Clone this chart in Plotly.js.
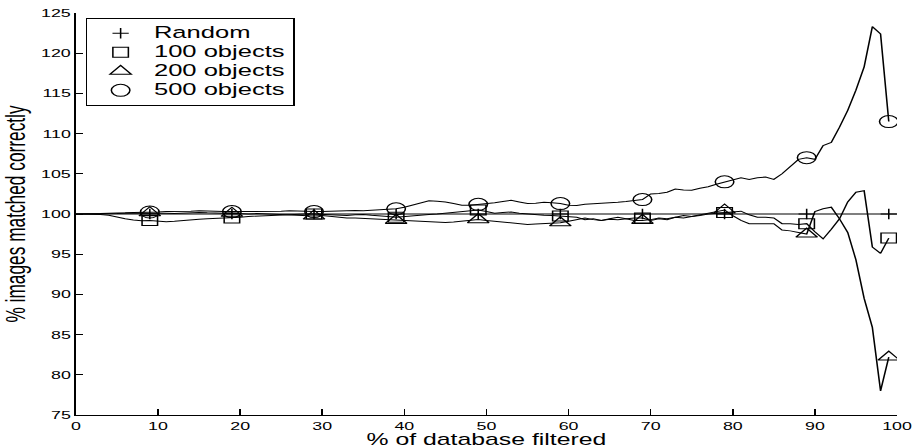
<!DOCTYPE html>
<html>
<head>
<meta charset="utf-8">
<script src="https://cdn.plot.ly/plotly-3.0.1.min.js"></script>
<style>
  html, body { margin: 0; padding: 0; background: #fff; }
  #wrap { width: 914px; height: 448px; overflow: hidden; position: relative; }
  #chart { width: 590px; height: 448px; transform: scaleX(1.5492); transform-origin: 0 0; }
</style>
</head>
<body>
<div id="wrap"><div id="chart"></div></div>
<script>
// ---- data ----
const seriesNames = ['Random', '100 objects', '200 objects', '500 objects'];

const xPct = [0,1,2,3,4,5,6,7,8,9,10,11,12,13,14,15,16,17,18,19,
  20,21,22,23,24,25,26,27,28,29,30,31,32,33,34,35,36,37,38,39,
  40,41,42,43,44,45,46,47,48,49,50,51,52,53,54,55,56,57,58,59,
  60,61,62,63,64,65,66,67,68,69,70,71,72,73,74,75,76,77,78,79,
  80,81,82,83,84,85,86,87,88,89,90,91,92,93,94,95,96,97,98,99];

const randomX = [0, 9, 19, 29, 39, 49, 59, 69, 79, 89, 99, 100];
const randomY = [100, 100, 100, 100, 100, 100, 100, 100, 100, 100, 100, 100];

const values100 = [
  100.0, 100.0, 100.0, 99.95, 99.85, 99.6, 99.4, 99.25, 99.15, 99.2,
  99.1, 99.05, 99.1, 99.2, 99.3, 99.35, 99.4, 99.45, 99.5, 99.5,
  99.6, 99.7, 99.75, 99.8, 99.8, 99.85, 99.9, 99.95, 100.0, 100.0,
  99.95, 99.9, 99.85, 99.8, 99.9, 99.95, 99.85, 99.8, 99.7, 99.6,
  99.7, 99.8, 99.9, 99.95, 100.0, 100.1, 100.2, 100.3, 100.4, 100.5,
  100.3, 100.1, 100.2, 100.25, 100.1, 100.0, 99.9, 99.85, 99.8, 99.75,
  99.7, 99.6, 99.3, 99.4, 99.2, 99.35, 99.3, 99.4, 99.5, 99.5,
  99.2, 99.4, 99.3, 99.6, 99.5, 99.7, 99.8, 100.0, 100.1, 100.2,
  100.3, 100.35, 99.9, 99.6, 99.6, 99.5, 98.8, 98.8, 98.7, 98.8,
  97.8, 96.9, 98.1, 99.4, 101.5, 102.7, 102.9, 95.9, 95.1, 97.0];

const values200 = [
  100.0, 100.0, 100.0, 100.0, 100.05, 100.05, 100.1, 100.1, 100.1, 100.15,
  100.1, 100.1, 100.05, 100.1, 100.15, 100.2, 100.15, 100.1, 100.1, 100.1,
  100.05, 100.0, 100.05, 100.0, 99.95, 99.9, 99.85, 99.8, 99.8, 99.75,
  99.8, 99.7, 99.6, 99.5, 99.5, 99.45, 99.4, 99.3, 99.25, 99.2,
  99.2, 99.15, 99.1, 99.05, 99.0, 98.95, 99.0, 99.1, 99.2, 99.3,
  99.2, 99.1, 99.0, 98.9, 98.8, 98.7, 98.75, 98.8, 98.9, 98.9,
  99.1, 99.3, 99.5, 99.3, 99.2, 99.4, 99.6, 99.4, 99.2, 99.2,
  99.3, 99.5, 99.4, 99.6, 99.8, 99.7, 99.9, 100.1, 100.3, 100.5,
  99.8, 99.2, 98.8, 98.8, 98.8, 98.8, 98.0, 97.9, 97.7, 97.5,
  100.3, 100.65, 100.85, 99.4, 97.7, 94.3, 89.5, 85.9, 78.0, 82.2];

const values500 = [
  100.0, 100.0, 100.05, 100.05, 100.1, 100.1, 100.15, 100.2, 100.2, 100.25,
  100.25, 100.3, 100.3, 100.35, 100.35, 100.4, 100.35, 100.3, 100.3, 100.3,
  100.3, 100.3, 100.35, 100.3, 100.3, 100.35, 100.4, 100.35, 100.3, 100.3,
  100.3, 100.35, 100.4, 100.4, 100.45, 100.4, 100.45, 100.5, 100.55, 100.65,
  100.85, 101.1, 101.4, 101.65, 101.6, 101.5, 101.3, 101.1, 101.1, 101.2,
  101.25, 101.4, 101.55, 101.7, 101.5, 101.3, 101.35, 101.45, 101.4, 101.3,
  101.1, 101.05, 101.2, 101.25, 101.3, 101.4, 101.45, 101.55, 101.65, 101.8,
  102.5, 102.55, 102.7, 103.1, 103.0, 102.95, 103.2, 103.4, 103.7, 104.0,
  104.2, 104.5, 104.3, 104.5, 104.6, 104.3, 105.0, 105.9, 106.8, 107.0,
  106.8, 108.5, 108.9, 110.8, 112.9, 115.4, 118.3, 123.3, 122.4, 111.5];

const xTickVals = [0, 10, 20, 30, 40, 50, 60, 70, 80, 90, 100];
const yTickVals = [75, 80, 85, 90, 95, 100, 105, 110, 115, 120, 125];

// ---- build traces ----
const FONT = 'Liberation Sans, Arial, Helvetica, sans-serif';
const symbols = ['cross-thin-open', 'square-open', 'triangle-up-open', 'circle-open'];
const sizes = [7.5, 10, 12, 12];
const lineSets = [
  [randomX, randomY],
  [xPct, values100],
  [xPct, values200],
  [xPct, values500]
];

const traces = [];
lineSets.forEach(([xs, ys]) => {
  traces.push({
    x: xs, y: ys, type: 'scatter', mode: 'lines',
    line: { color: '#000', width: 1 },
    showlegend: false, hoverinfo: 'skip'
  });
});
lineSets.forEach(([xs, ys], i) => {
  const mx = [], my = [];
  xs.forEach((xv, k) => { if (xv % 10 === 9) { mx.push(xv); my.push(ys[k]); } });
  traces.push({
    x: mx, y: my, type: 'scatter', mode: 'markers',
    name: '<span style="font-size:16.5px">' + seriesNames[i] + '</span>',
    marker: { symbol: symbols[i], size: sizes[i], color: '#000',
              line: { color: '#000', width: 1 } }
  });
});

const layout = {
  width: 590, height: 448,
  margin: { l: 49, r: 10.5, t: 13.3, b: 33 },
  paper_bgcolor: '#fff', plot_bgcolor: '#fff',
  font: { family: FONT, color: '#000', size: 11 },
  showlegend: true,
  legend: {
    x: 0.012, y: 0.988, xanchor: 'left', yanchor: 'top',
    bgcolor: '#fff', bordercolor: '#000', borderwidth: 1,
    font: { family: FONT, size: 12.3, color: '#000' },
    itemwidth: 33,
    tracegroupgap: 0
  },
  xaxis: {
    range: [0, 100], tickvals: xTickVals, ticktext: xTickVals.map(String),
    ticks: 'inside', ticklen: 6, tickwidth: 1, tickcolor: '#000',
    showline: true, linecolor: '#000', linewidth: 1, mirror: false,
    showgrid: false, zeroline: false,
    tickfont: { family: FONT, size: 11.5, color: '#000' },
    title: { text: '% of database filtered', font: { family: FONT, size: 16, color: '#000' }, standoff: 4 }
  },
  yaxis: {
    range: [75, 125], tickvals: yTickVals, ticktext: yTickVals.map(String),
    ticks: 'inside', ticklen: 4.5, tickwidth: 1, tickcolor: '#000',
    showline: true, linecolor: '#000', linewidth: 1, mirror: false,
    showgrid: false, zeroline: false,
    tickfont: { family: FONT, size: 11.5, color: '#000' },
    title: { text: '% images matched correctly', font: { family: FONT, size: 17.3, color: '#000' }, standoff: 8 }
  }
};

Plotly.newPlot('chart', traces, layout, { displayModeBar: false, staticPlot: true });
</script>
</body>
</html>
